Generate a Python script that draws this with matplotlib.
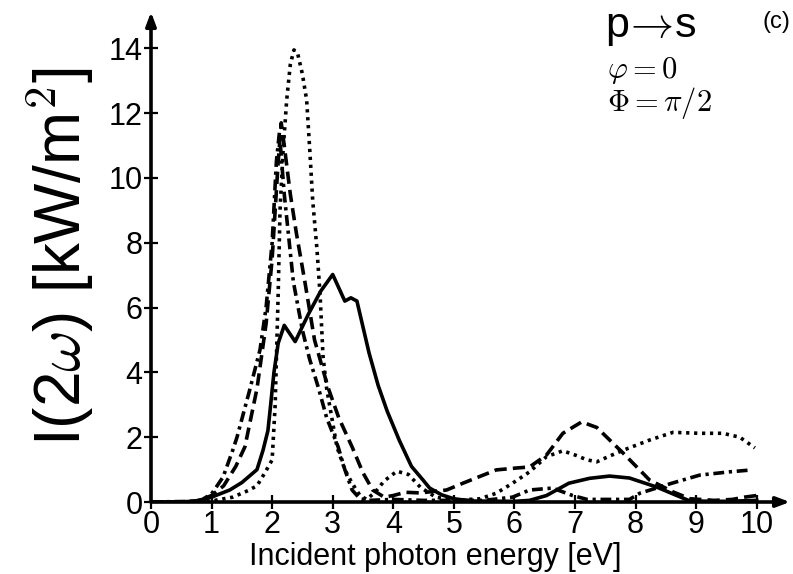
import matplotlib
matplotlib.use("Agg")
import matplotlib.pyplot as plt

plt.rcParams['font.family'] = ['Liberation Sans', 'DejaVu Sans']
plt.rcParams['mathtext.fontset'] = 'cm'

# ---- data ----
x_solid = [0.0, 0.5, 0.8, 1.0, 1.3, 1.5, 1.75, 1.85, 1.93, 1.97, 2.03, 2.1, 2.2, 2.38, 2.6, 2.8, 3.0,
           3.2, 3.3, 3.4, 3.5, 3.6, 3.75, 3.9, 4.1, 4.3, 4.49, 4.6, 4.8, 5.0, 5.3, 6.0, 6.25, 6.53,
           6.9, 7.24, 7.57, 7.9, 8.35, 8.68, 8.9, 9.5, 10.0]
y_solid = [0.0, 0.0, 0.04, 0.15, 0.37, 0.6, 1.0, 1.6, 2.2, 2.9, 4.0, 4.9, 5.45, 4.95, 5.8, 6.5, 7.02,
           6.2, 6.3, 6.2, 5.4, 4.6, 3.6, 2.8, 1.9, 1.1, 0.68, 0.43, 0.22, 0.1, 0.03, 0.02, 0.05, 0.2,
           0.58, 0.73, 0.8, 0.74, 0.46, 0.2, 0.03, 0.02, 0.05]

x_dashed = [0.0, 0.6, 0.8, 1.0, 1.2, 1.4, 1.55, 1.75, 1.9, 2.0, 2.1, 2.15, 2.2, 2.3, 2.4, 2.54, 2.7,
            2.92, 3.1, 3.32, 3.5, 3.66, 3.85, 4.0, 4.2, 4.44, 4.88, 5.15, 5.7, 6.04, 6.25, 6.53, 6.8,
            7.11, 7.36, 7.8, 8.23, 8.62, 8.9, 9.3, 9.6, 9.8, 10.0]
y_dashed = [0.0, 0.0, 0.05, 0.2, 0.5, 1.1, 1.7, 3.5, 5.5, 7.5, 10.5, 11.7, 11.0, 9.5, 8.3, 6.8, 5.0,
            3.55, 2.6, 1.7, 0.9, 0.37, 0.15, 0.2, 0.3, 0.28, 0.37, 0.58, 0.99, 1.05, 1.08, 1.45, 2.12,
            2.47, 2.3, 1.5, 0.68, 0.31, 0.1, 0.05, 0.08, 0.15, 0.2]

x_dotted = [0.0, 0.8, 1.0, 1.35, 1.6, 1.75, 1.88, 2.0, 2.05, 2.1, 2.13, 2.18, 2.24, 2.3, 2.36, 2.42,
            2.5, 2.57, 2.62, 2.67, 2.74, 2.79, 2.84, 2.9, 3.07, 3.2, 3.32, 3.45, 3.56, 3.7, 3.85, 4.06,
            4.25, 4.45, 4.7, 5.0, 5.43, 5.7, 5.97, 6.25, 6.53, 6.8, 7.0, 7.2, 7.36, 7.55, 7.8, 8.23,
            8.62, 9.06, 9.44, 9.72, 9.97]
y_dotted = [0.0, 0.0, 0.03, 0.15, 0.35, 0.5, 0.9, 1.3, 3.0, 6.45, 9.0, 10.8, 12.4, 13.5, 13.95, 13.85,
            13.2, 12.4, 10.9, 9.3, 7.8, 6.45, 4.5, 3.5, 1.7, 1.0, 0.58, 0.2, 0.08, 0.3, 0.65, 0.95,
            0.85, 0.45, 0.15, 0.05, 0.1, 0.27, 0.58, 0.93, 1.4, 1.58, 1.45, 1.3, 1.24, 1.4, 1.6, 1.91,
            2.15, 2.12, 2.12, 2.0, 1.67]

x_dashdot = [0.0, 0.7, 0.85, 1.0, 1.19, 1.35, 1.42, 1.63, 1.8, 1.9, 2.0, 2.07, 2.12, 2.2, 2.35, 2.5,
             2.62, 2.76, 2.9, 3.09, 3.2, 3.32, 3.45, 3.6, 4.0, 4.5, 5.0, 5.5, 5.97, 6.25, 6.63, 6.96,
             7.2, 7.9, 8.07, 8.6, 9.06, 9.55, 9.92]
y_dashdot = [0.0, 0.02, 0.08, 0.25, 0.77, 1.6, 2.0, 3.46, 4.7, 6.0, 8.0, 10.5, 11.4, 9.5, 6.8, 5.3,
             4.4, 3.55, 2.6, 1.7, 1.0, 0.37, 0.1, 0.05, 0.08, 0.05, 0.05, 0.05, 0.15, 0.37, 0.43, 0.2,
             0.08, 0.08, 0.27, 0.58, 0.83, 0.93, 0.99]

x_ticks = [0, 1, 2, 3, 4, 5, 6, 7, 8, 9, 10]
y_ticks = [0, 2, 4, 6, 8, 10, 12, 14]

# ---- figure ----
W, H = 793, 574
fig = plt.figure(figsize=(W / 100, H / 100), dpi=100)
ax = fig.add_axes([151 / W, (H - 502) / H, (790 - 151) / W, (502 - 12) / H])
ax.set_xlim(0, 10.55)
ax.set_ylim(0, 15.12)

lw = 2.6
ax.plot(x_solid, y_solid, color='black', lw=lw, linestyle='-')
ax.plot(x_dashed, y_dashed, color='black', lw=lw, linestyle=(0, (3.4, 1.7)))
ax.plot(x_dotted, y_dotted, color='black', lw=lw, linestyle=(0, (0.9, 1.3)))
ax.plot(x_dashdot, y_dashdot, color='black', lw=lw, linestyle=(0, (3.0, 1.3, 0.9, 1.3)))

for s in ['top', 'right', 'left', 'bottom']:
    ax.spines[s].set_visible(False)

# axes as arrows
ax.annotate('', xy=(10.55, 0), xytext=(0, 0), xycoords='data',
            arrowprops=dict(arrowstyle='-|>,head_length=0.8,head_width=0.3', lw=2.6,
                            color='black', shrinkA=0, shrinkB=0), annotation_clip=False)
ax.annotate('', xy=(0, 15.12), xytext=(0, 0), xycoords='data',
            arrowprops=dict(arrowstyle='-|>,head_length=0.8,head_width=0.3', lw=2.6,
                            color='black', shrinkA=0, shrinkB=0), annotation_clip=False)

ax.set_xticks(x_ticks)
ax.set_yticks(y_ticks)
ax.set_xticklabels([str(t) for t in x_ticks])
ax.set_yticklabels([str(t) for t in y_ticks])
ax.tick_params(direction='inout', length=10, width=1.6, labelsize=22, pad=1, color='black')

ax.set_xlabel('Incident photon energy [eV]', fontsize=22)
ax.xaxis.set_label_coords((435 - 151) / (790 - 151), -(557 - 502) / (502 - 12))
ax.xaxis.label.set_va('center')
ax.set_ylabel(r'I(2$\omega$) [kW/m$^2$]', fontsize=46, labelpad=9)

fig.text(605 / W, 1 - 28 / H, r'p$\!\rightarrow\!$s', fontsize=31, va='center', ha='left')
fig.text(762 / W, 1 - 22 / H, '(c)', fontsize=17, va='center', ha='left')
fig.text(607 / W, 1 - 70 / H, r'$\varphi = 0$', fontsize=22, va='center', ha='left')
fig.text(607 / W, 1 - 103 / H, r'$\Phi = \pi/2$', fontsize=22, va='center', ha='left')

fig.savefig('out.png', dpi=100)
